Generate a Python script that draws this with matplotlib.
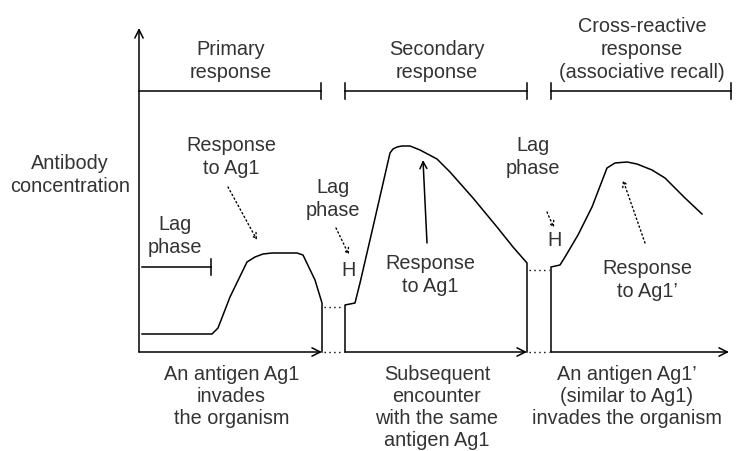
import matplotlib.pyplot as plt

plt.rcParams['font.family'] = ['Liberation Sans', 'DejaVu Sans']

# time (t) and antibody concentration (c) along the curves, in diagram units
prim_t = [3, 73, 79, 91, 108, 116, 124, 133, 158, 164, 176, 183, 183]
prim_c = [18, 18, 24, 55, 90, 95, 98, 99, 99, 97, 72, 49, 0]

sec_t = [206, 206, 216, 221, 234, 251, 254, 258, 263, 271, 281, 298, 311, 334,
         358, 374, 388, 388]
sec_c = [0, 47, 49, 69, 125, 199, 203, 205, 206, 206, 202, 193, 180, 154,
         125, 105, 89, 0]

cross_t = [412, 412, 421, 426, 439, 453, 468, 476, 488, 498, 513, 526, 546, 563]
cross_c = [0, 85, 87, 95, 117, 145, 184, 189, 190, 188, 182, 174, 154, 138]

# time axis segments (start, end) and the y axis top
axis_segments = [(0, 183), (206, 388), (412, 590)]
y_axis_top = 324

# dotted gaps between segments: (t0, t1, level)
gaps = [(185, 204, 0), (185, 204, 45), (390, 410, 0), (390, 410, 82)]

# phase brackets on top
phases = ['Primary\nresponse', 'Secondary\nresponse',
          'Cross-reactive\nresponse\n(associative recall)']
phase_spans = [(0, 182), (206, 388), (412, 592)]
phase_level = 261

# first lag phase bar
lag_span = (3, 72)
lag_level = 85

bottom_labels = ['An antigen Ag1\ninvades\nthe organism',
                 'Subsequent\nencounter\nwith the same\nantigen Ag1',
                 'An antigen Ag1\u2019\n(similar to Ag1)\ninvades the organism']

fig = plt.figure(figsize=(7.53, 4.51), dpi=100)
ax = fig.add_axes([0, 0, 1, 1])
ax.set_xlim(-139, 614)
ax.set_ylim(-99, 352)
ax.axis('off')

lw = 1.1
tc = '#333333'
fs = 14.3
ls_txt = 1.27

# curves
ax.plot(prim_t, prim_c, color='black', lw=lw)
ax.plot(sec_t, sec_c, color='black', lw=lw)
ax.plot(cross_t, cross_c, color='black', lw=lw)

# axes with open arrow heads
arr = dict(arrowstyle='->,head_length=0.6,head_width=0.3', color='black',
           lw=lw, shrinkA=0, shrinkB=0)
for t0, t1 in axis_segments:
    ax.annotate('', xy=(t1, 0), xytext=(t0, 0), arrowprops=arr)
ax.annotate('', xy=(0, y_axis_top), xytext=(0, 0), arrowprops=arr)

for t0, t1, lev in gaps:
    ax.plot([t0, t1], [lev, lev], color='black', lw=1, ls=(0, (1, 2.5)))

# top phase brackets
for (t0, t1), lab in zip(phase_spans, phases):
    ax.plot([t0, t1], [phase_level, phase_level], color='black', lw=lw)
    ax.plot([t1, t1], [phase_level - 8, phase_level + 8], color='black', lw=lw)
    if t0 > 0:
        ax.plot([t0, t0], [phase_level - 8, phase_level + 8], color='black', lw=lw)
    ax.text((t0 + t1) / 2 + 1, phase_level + 9, lab, ha='center', va='bottom',
            fontsize=fs, color=tc, linespacing=ls_txt)

# lag phase bar
ax.plot(lag_span, [lag_level, lag_level], color='black', lw=lw)
ax.plot([lag_span[1]] * 2, [lag_level - 8, lag_level + 8], color='black', lw=lw)

# labels
def label(t, c, s):
    ax.text(t, c, s, ha='center', va='center', fontsize=fs, color=tc,
            linespacing=ls_txt)

label(-69, 177, 'Antibody\nconcentration')
label(92, 195, 'Response\nto Ag1')
label(36, 116, 'Lag\nphase')
label(194, 153, 'Lag\nphase')
label(291, 77, 'Response\nto Ag1')
label(394, 195, 'Lag\nphase')
label(508, 72, 'Response\nto Ag1\u2019')
label(210, 82, 'H')
label(416, 112, 'H')

# pointers
dot_arr = dict(arrowstyle='->,head_length=0.4,head_width=0.2', color='black',
               lw=1, ls=(0, (1, 2)), shrinkA=0, shrinkB=0)
ax.annotate('', xy=(118, 112), xytext=(89, 165), arrowprops=dot_arr)
ax.annotate('', xy=(210, 97), xytext=(197, 124), arrowprops=dot_arr)
ax.annotate('', xy=(415, 124), xytext=(408, 140), arrowprops=dot_arr)
ax.annotate('', xy=(484, 172), xytext=(506, 109), arrowprops=dot_arr)
ax.annotate('', xy=(284, 192), xytext=(288, 109),
            arrowprops=dict(arrowstyle='->,head_length=0.5,head_width=0.25',
                            color='black', lw=lw, shrinkA=0, shrinkB=0))

for (t0, t1), lab in zip(axis_segments, bottom_labels):
    ax.text((t0 + t1) / 2 + (1 if t0 < 400 else -13), -13, lab, ha='center',
            va='top', fontsize=fs, color=tc, linespacing=1.19)

fig.savefig('out.png', dpi=100)
